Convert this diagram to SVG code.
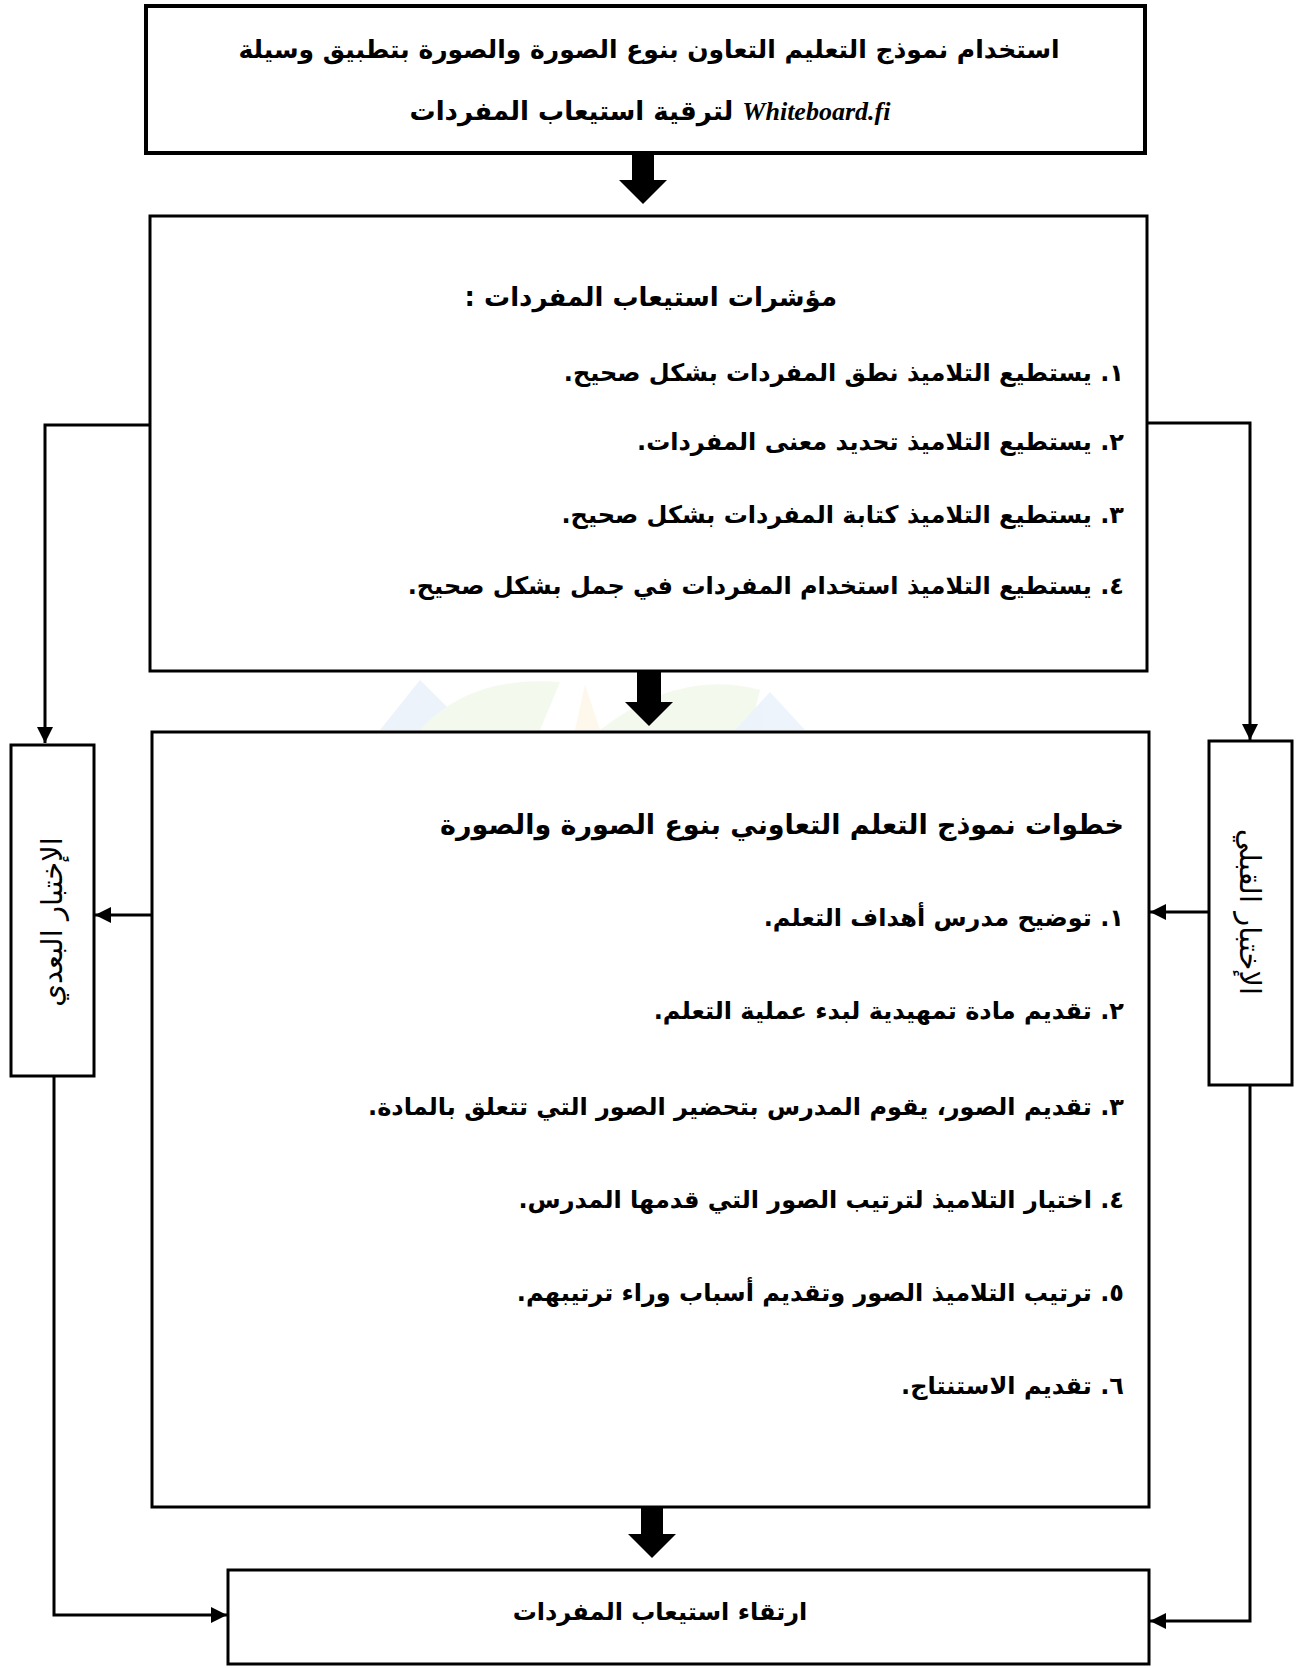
<svg xmlns="http://www.w3.org/2000/svg" width="1306" height="1668" viewBox="0 0 1306 1668">
<style>
  .box { fill: #ffffff; stroke: #000000; stroke-width: 3; }
  .thick { stroke-width: 4; }
  .conn { fill: none; stroke: #000000; stroke-width: 3; }
  .t { font-family: "DejaVu Sans", sans-serif; font-weight: bold; fill: #000000; direction: rtl; unicode-bidi: embed; }
  .item { font-size: 24px; }
  .head { font-size: 26px; }
  .vert { font-size: 29px; font-weight: normal; }
  .en { font-family: "Liberation Serif", serif; font-style: italic; font-weight: bold; }
</style>
<defs>
  <marker id="ahs" viewBox="0 0 16 16" refX="16" refY="8" markerWidth="16" markerHeight="16" orient="auto" markerUnits="userSpaceOnUse">
    <path d="M0,0 L16,8 L0,16 Z" fill="#000"/>
  </marker>
</defs>
<rect width="1306" height="1668" fill="#ffffff"/>
<g id="watermark" opacity="0.14">
  <polygon points="380,730 420,680 470,730" fill="#7fb2e0"/>
  <path d="M420,730 Q470,675 560,682 L540,730 Z" fill="#b5d98a"/>
  <polygon points="575,730 585,685 600,730" fill="#f2d27a"/>
  <path d="M600,730 Q680,668 760,690 L750,730 Z" fill="#b5d98a"/>
  <polygon points="735,730 770,692 805,730" fill="#7fb2e0"/>
</g>
<g id="connectors">
  <path class="conn" d="M150,425 H45 V743" marker-end="url(#ahs)"/>
  <path class="conn" d="M152,915 H95" marker-end="url(#ahs)"/>
  <path class="conn" d="M54,1076 V1615 H227" marker-end="url(#ahs)"/>
  <path class="conn" d="M1147,423 H1250 V740" marker-end="url(#ahs)"/>
  <path class="conn" d="M1209,912 H1150" marker-end="url(#ahs)"/>
  <path class="conn" d="M1250,1085 V1621 H1150" marker-end="url(#ahs)"/>
  <polygon points="632,154 654,154 654,180 667,180 643,204 619,180 632,180" fill="#000"/>
  <polygon points="637,671 661,671 661,702 673,702 649,726 625,702 637,702" fill="#000"/>
  <polygon points="641,1507 663,1507 663,1534 676,1534 652,1558 628,1534 641,1534" fill="#000"/>
</g>
<g id="n-top">
  <rect class="box thick" x="146" y="6" width="999" height="147"/>
  <text class="t" font-size="25" x="649" y="58" text-anchor="middle">استخدام نموذج التعليم التعاون بنوع الصورة والصورة بتطبيق وسيلة</text>
  <text class="t head" x="650" y="120" text-anchor="middle"><tspan class="en">Whiteboard.fi</tspan> لترقية استيعاب المفردات</text>
</g>
<g id="n-indicators">
  <rect class="box" x="150" y="216" width="997" height="455"/>
  <text class="t head" x="837" y="306" text-anchor="start">مؤشرات استيعاب المفردات :</text>
  <text class="t item" x="1124" y="381" text-anchor="start">١. يستطيع التلاميذ نطق المفردات بشكل صحيح.</text>
  <text class="t item" x="1124" y="450" text-anchor="start">٢. يستطيع التلاميذ تحديد معنى المفردات.</text>
  <text class="t item" x="1124" y="523" text-anchor="start">٣. يستطيع التلاميذ كتابة المفردات بشكل صحيح.</text>
  <text class="t item" x="1124" y="594" text-anchor="start">٤. يستطيع التلاميذ استخدام المفردات في جمل بشكل صحيح.</text>
</g>
<g id="n-steps">
  <rect class="box" x="152" y="732" width="997" height="775"/>
  <text class="t" font-size="27" x="1124" y="834" text-anchor="start">خطوات نموذج التعلم التعاوني بنوع الصورة والصورة</text>
  <text class="t item" x="1124" y="926" text-anchor="start">١. توضيح مدرس أهداف التعلم.</text>
  <text class="t item" x="1124" y="1019" text-anchor="start">٢. تقديم مادة تمهيدية لبدء عملية التعلم.</text>
  <text class="t item" x="1124" y="1115" text-anchor="start">٣. تقديم الصور، يقوم المدرس بتحضير الصور التي تتعلق بالمادة.</text>
  <text class="t item" x="1124" y="1208" text-anchor="start">٤. اختيار التلاميذ لترتيب الصور التي قدمها المدرس.</text>
  <text class="t item" x="1124" y="1301" text-anchor="start">٥. ترتيب التلاميذ الصور وتقديم أسباب وراء ترتيبهم.</text>
  <text class="t item" x="1124" y="1394" text-anchor="start">٦. تقديم الاستنتاج.</text>
</g>
<g id="n-posttest">
  <rect class="box" x="11" y="745" width="83" height="331"/>
  <text class="t vert" transform="translate(52,922) rotate(-90)" x="0" y="10" text-anchor="middle">الإختبار البعدي</text>
</g>
<g id="n-pretest">
  <rect class="box" x="1209" y="741" width="83" height="344"/>
  <text class="t vert" transform="translate(1250,912) rotate(90)" x="0" y="10" text-anchor="middle">الإختبار القبلي</text>
</g>
<g id="n-result">
  <rect class="box" x="228" y="1570" width="921" height="94"/>
  <text class="t item" x="660" y="1620" text-anchor="middle">ارتقاء استيعاب المفردات</text>
</g>
</svg>
